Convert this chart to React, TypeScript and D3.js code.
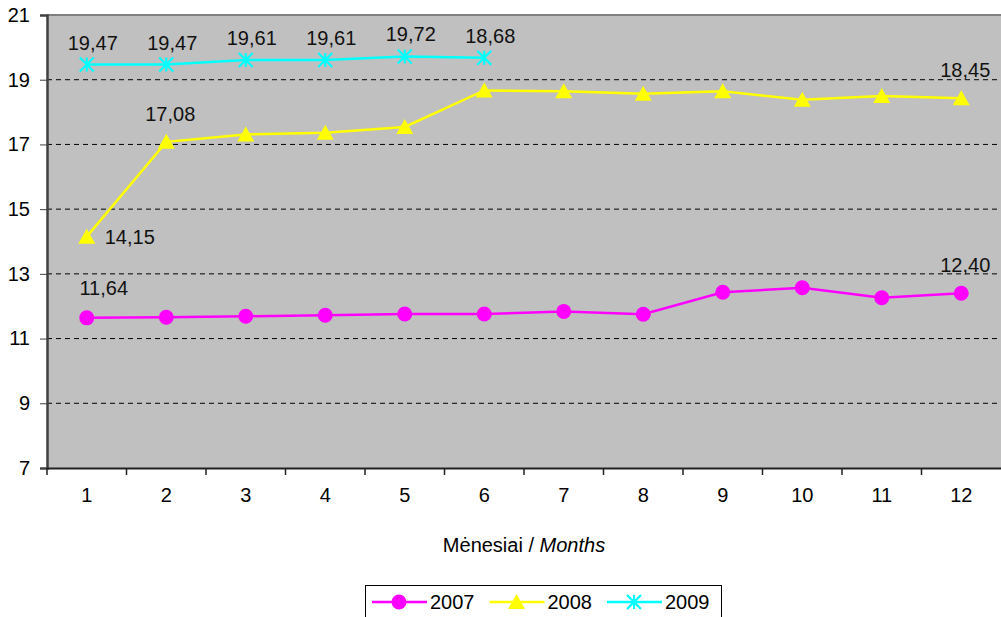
import React, { useEffect, useRef } from 'react';
import * as d3 from 'd3';

const months = ['1', '2', '3', '4', '5', '6', '7', '8', '9', '10', '11', '12'];
const yTicks = [7, 9, 11, 13, 15, 17, 19, 21];

const values2007 = [11.64, 11.66, 11.69, 11.72, 11.76, 11.76, 11.84, 11.75, 12.43, 12.57, 12.26, 12.40];
const values2008 = [14.15, 17.08, 17.31, 17.36, 17.54, 18.67, 18.64, 18.57, 18.64, 18.38, 18.5, 18.43];
const values2009 = [19.47, 19.47, 19.61, 19.61, 19.72, 19.68];

// [series, month index, text, placement]
const pointLabels: [string, number, string, string][] = [
  ['2009', 0, '19,47', 'above'],
  ['2009', 1, '19,47', 'above'],
  ['2009', 2, '19,61', 'above'],
  ['2009', 3, '19,61', 'above'],
  ['2009', 4, '19,72', 'above'],
  ['2009', 5, '18,68', 'above'],
  ['2008', 0, '14,15', 'right'],
  ['2008', 1, '17,08', 'top'],
  ['2008', 11, '18,45', 'top'],
  ['2007', 0, '11,64', 'aboveRight'],
  ['2007', 11, '12,40', 'top'],
];

type Series = { name: string; values: number[]; color: string; marker: 'circle' | 'triangle' | 'star' };

const series: Series[] = [
  { name: '2007', values: values2007, color: '#FF00FF', marker: 'circle' },
  { name: '2008', values: values2008, color: '#FFFF00', marker: 'triangle' },
  { name: '2009', values: values2009, color: '#00FFFF', marker: 'star' },
];

const FONT = 'Arial, "Liberation Sans", sans-serif';

const drawMarker = (g: d3.Selection<SVGGElement, unknown, null, undefined>, kind: string, x: number, y: number, color: string) => {
  if (kind === 'circle') {
    g.append('circle').attr('cx', x).attr('cy', y).attr('r', 7.5).attr('fill', color);
  } else if (kind === 'triangle') {
    g.append('path')
      .attr('d', `M${x},${y - 8}L${x + 8.5},${y + 7}L${x - 8.5},${y + 7}Z`)
      .attr('fill', color);
  } else {
    const s = 7;
    g.append('path')
      .attr('d', `M${x},${y - s}L${x},${y + s}M${x - s},${y - s}L${x + s},${y + s}M${x - s},${y + s}L${x + s},${y - s}`)
      .attr('stroke', color)
      .attr('stroke-width', 2.2)
      .attr('fill', 'none');
  }
};

const MonthlyChart: React.FC = () => {
  const svgRef = useRef<SVGSVGElement>(null);

  useEffect(() => {
    if (!svgRef.current) return;
    const svg = d3.select(svgRef.current);
    svg.selectAll('*').remove();

    const left = 47;
    const right = 1001;
    const top = 15;
    const bottom = 468;

    const x = d3.scaleBand<string>().domain(months).range([left, right]);
    const y = d3.scaleLinear().domain([7, 21]).range([bottom, top]);
    const cx = (i: number) => (x(months[i]) ?? 0) + x.bandwidth() / 2;

    svg.append('rect')
      .attr('x', left).attr('y', top)
      .attr('width', right - left).attr('height', bottom - top)
      .attr('fill', '#C0C0C0');

    // dashed gridlines
    svg.append('g')
      .selectAll('line')
      .data(yTicks.filter(t => t > 7 && t < 21))
      .enter()
      .append('line')
      .attr('x1', left).attr('x2', right)
      .attr('y1', d => y(d)).attr('y2', d => y(d))
      .attr('stroke', '#000')
      .attr('stroke-width', 1)
      .attr('stroke-dasharray', '5,4');

    // top border
    svg.append('line')
      .attr('x1', left).attr('x2', right)
      .attr('y1', top).attr('y2', top)
      .attr('stroke', '#808080').attr('stroke-width', 2);

    // y axis
    const yAxis = svg.append('g').attr('transform', `translate(${left},0)`)
      .call(d3.axisLeft(y).tickValues(yTicks).tickSize(7).tickPadding(10).tickFormat(d3.format('d')));
    yAxis.select('.domain').attr('stroke', '#404040').attr('stroke-width', 2.5);
    yAxis.selectAll('.tick line').attr('stroke', '#404040');
    yAxis.selectAll('text')
      .style('font-family', FONT).style('font-size', '20px').attr('fill', '#000');

    // x axis
    const xAxis = svg.append('g').attr('transform', `translate(0,${bottom})`)
      .call(d3.axisBottom(x).tickSize(0).tickPadding(20));
    xAxis.select('.domain').attr('stroke', '#202020').attr('stroke-width', 2);
    xAxis.selectAll('text')
      .style('font-family', FONT).style('font-size', '20px').attr('fill', '#000');
    xAxis.selectAll('.tick').select('line').remove();
    svg.append('g')
      .selectAll('line')
      .data(months)
      .enter()
      .append('line')
      .attr('x1', d => x(d) ?? 0).attr('x2', d => x(d) ?? 0)
      .attr('y1', bottom).attr('y2', bottom + 7)
      .attr('stroke', '#202020').attr('stroke-width', 1.5);

    const line = d3.line<number>()
      .x((_, i) => cx(i))
      .y(d => y(d));

    series.forEach(s => {
      svg.append('path')
        .attr('d', line(s.values))
        .attr('fill', 'none')
        .attr('stroke', s.color)
        .attr('stroke-width', 2.5);
      const mg = svg.append('g');
      s.values.forEach((v, i) => drawMarker(mg, s.marker, cx(i), y(v), s.color));
    });

    // data labels
    const lg = svg.append('g').style('font-family', FONT).style('font-size', '20px').attr('fill', '#111');
    pointLabels.forEach(([name, i, text, place]) => {
      const s = series.find(d => d.name === name)!;
      const px = cx(i);
      const py = y(s.values[i]);
      const t = lg.append('text').text(text);
      if (place === 'right') {
        t.attr('x', px + 18).attr('y', py + 7).attr('text-anchor', 'start');
      } else if (place === 'aboveRight') {
        t.attr('x', px + 17).attr('y', py - 23).attr('text-anchor', 'middle');
      } else if (place === 'top') {
        t.attr('x', px + 4).attr('y', py - 21).attr('text-anchor', 'middle');
      } else {
        t.attr('x', px + 6).attr('y', py - 15).attr('text-anchor', 'middle');
      }
    });

    // axis title
    const title = svg.append('text')
      .attr('x', (left + right) / 2)
      .attr('y', 552)
      .attr('text-anchor', 'middle')
      .style('font-family', FONT)
      .style('font-size', '20px')
      .attr('fill', '#000');
    title.append('tspan').text('Mėnesiai / ');
    title.append('tspan').style('font-style', 'italic').text('Months');

    // legend
    const legend = svg.append('g');
    legend.append('rect')
      .attr('x', 365.5).attr('y', 585.5)
      .attr('width', 356).attr('height', 40)
      .attr('fill', '#fff').attr('stroke', '#000').attr('stroke-width', 1);
    const legendX = d3.scalePoint<string>().domain(series.map(s => s.name)).range([372, 607]);
    series.forEach(s => {
      const lx = legendX(s.name) ?? 0;
      const ly = 602;
      legend.append('line')
        .attr('x1', lx).attr('x2', lx + 55)
        .attr('y1', ly).attr('y2', ly)
        .attr('stroke', s.color).attr('stroke-width', 2.5);
      drawMarker(legend as any, s.marker, lx + 27, ly, s.color);
      legend.append('text')
        .attr('x', lx + 58).attr('y', ly + 7)
        .style('font-family', FONT).style('font-size', '20px')
        .attr('fill', '#000')
        .text(s.name);
    });
  }, []);

  return (
    <svg
      ref={svgRef}
      width={1001}
      height={617}
      viewBox="0 0 1001 617"
      style={{ position: 'absolute', left: 0, top: 0, background: '#fff' }}
    />
  );
};

export default function App() {
  return <MonthlyChart />;
}
